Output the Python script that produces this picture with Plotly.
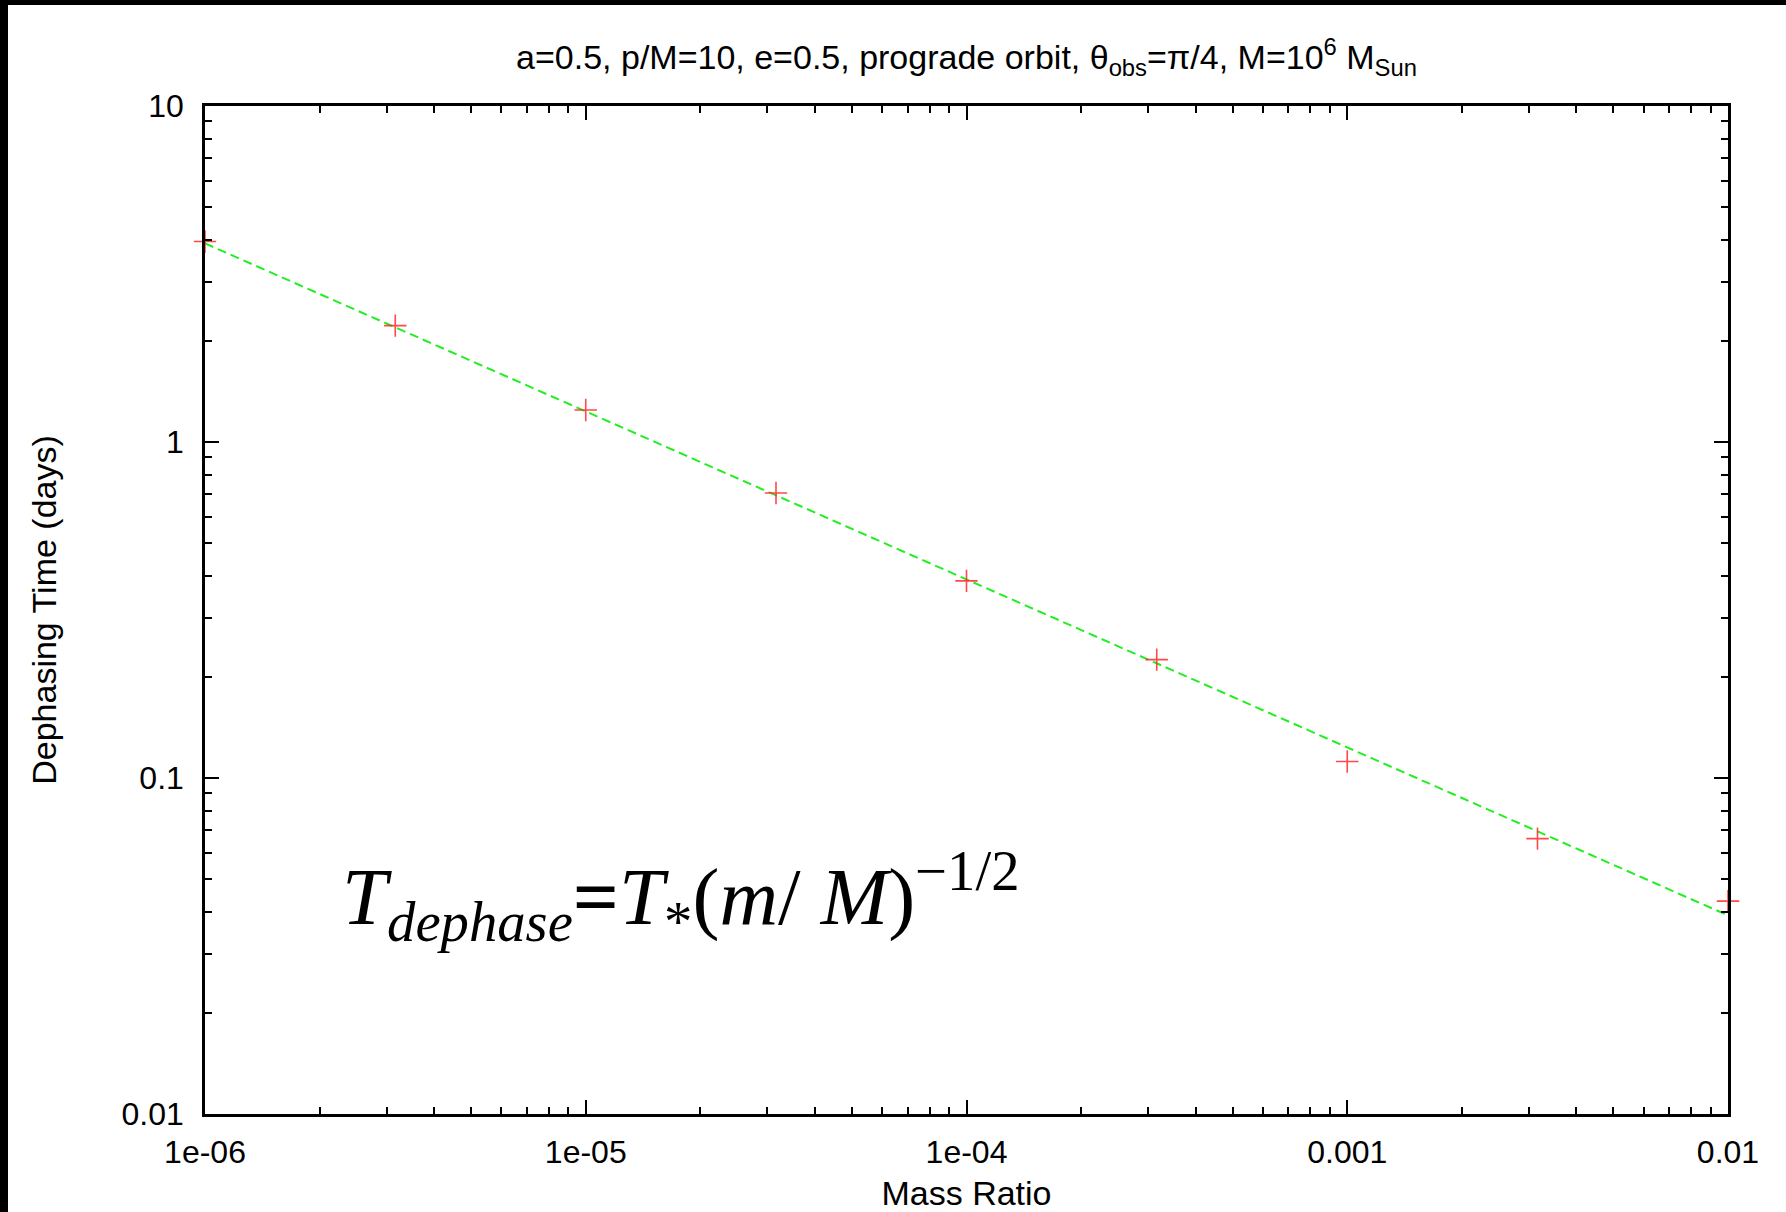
import plotly.graph_objects as go

# ---- data ----
mass_ratio = [1e-6, 3.16e-6, 1e-5, 3.16e-5, 1e-4, 3.16e-4, 1e-3, 3.16e-3, 1e-2]
dephasing_days = [3.95, 2.22, 1.245, 0.705, 0.386, 0.225, 0.112, 0.066, 0.043]
fit_x = [1e-6, 1e-2]
fit_y = [3.9, 0.039]
x_tickvals = [1e-6, 1e-5, 1e-4, 1e-3, 1e-2]
x_ticktext = ["1e-06", "1e-05", "1e-04", "0.001", "0.01"]
y_tickvals = [0.01, 0.1, 1, 10]
y_ticktext = ["0.01", "0.1", "1", "10"]

x_minor = [m * d for d in x_tickvals[:-1] for m in range(2, 10)]
y_minor = [m * d for d in y_tickvals[:-1] for m in range(2, 10)]

W, H = 1786, 1212
L, R, T, B = 205, 58, 106, 98
pw, ph = W - L - R, H - T - B

def px(x):
    return (x - L) / pw

def py(y):
    return (H - B - y) / ph

font_main = "Liberation Sans, Arial, Helvetica, sans-serif"

fig = go.Figure()
fig.add_trace(go.Scatter(
    x=fit_x, y=fit_y, mode="lines",
    line=dict(color="#22ee22", width=2, dash="9px,5px"),
    showlegend=False, hoverinfo="skip"))
fig.add_trace(go.Scatter(
    x=mass_ratio, y=dephasing_days, mode="markers",
    marker=dict(symbol="cross-thin", size=16,
                line=dict(color="rgba(255,40,40,0.85)", width=1.6)),
    showlegend=False, cliponaxis=False))

axis_common = dict(
    type="log", showgrid=False, zeroline=False,
    showline=True, linecolor="black", linewidth=2.5, mirror="allticks",
    ticks="inside", ticklen=14, tickwidth=1.5, tickcolor="black",
    tickfont=dict(family=font_main, size=32, color="black"),
)

fig.update_xaxes(**axis_common, range=[-6, -1.99999],
                 tickmode="array", tickvals=x_tickvals, ticktext=x_ticktext,
                 ticklabelstandoff=8,
                 minor=dict(ticks="inside", ticklen=7, tickwidth=1.5, tickcolor="black",
                            showgrid=False, tickmode="array", tickvals=x_minor),
                 title=dict(text="Mass Ratio", font=dict(family=font_main, size=34, color="black"), standoff=30))
fig.update_yaxes(**axis_common, range=[-2, 1],
                 tickmode="array", tickvals=y_tickvals, ticktext=y_ticktext,
                 ticklabelstandoff=12,
                 minor=dict(ticks="inside", ticklen=7, tickwidth=1.5, tickcolor="black",
                            showgrid=False, tickmode="array", tickvals=y_minor),
                 title=dict(text="Dephasing Time (days)", font=dict(family=font_main, size=34, color="black"), standoff=55))

title_text = ("a=0.5, p/M=10, e=0.5, prograde orbit, θ<sub>obs</sub>=π/4, "
              "M=10<sup>6</sup> M<sub>Sun</sub>")

fig.update_layout(
    width=W, height=H,
    margin=dict(l=L, r=R, t=T, b=B, autoexpand=False),
    paper_bgcolor="white", plot_bgcolor="white",
    title=dict(text=title_text, x=0.5 * (L + (W - R)) / W, xanchor="center",
               y=1 - 57 / H, yanchor="middle",
               font=dict(family=font_main, size=34, color="black")),
    annotations=[dict(
        text=("<i>T</i><sub><i>dephase</i></sub><b>=</b><i>T</i><sub>*</sub>"
              "(<i>m</i>/ <i>M</i>)<sup>−1/2</sup>"),
        xref="paper", yref="paper", x=px(340), y=py(896),
        xanchor="left", yanchor="middle", showarrow=False,
        font=dict(family="Liberation Serif, Times New Roman, serif", size=81, color="black"),
    )],
    shapes=[
        dict(type="rect", xref="paper", yref="paper", x0=px(0), x1=px(8), y0=py(H), y1=py(0),
             fillcolor="black", line=dict(width=0), layer="above"),
        dict(type="rect", xref="paper", yref="paper", x0=px(0), x1=px(W), y0=py(5), y1=py(0),
             fillcolor="black", line=dict(width=0), layer="above"),
    ],
)

fig.write_html("out.html")
